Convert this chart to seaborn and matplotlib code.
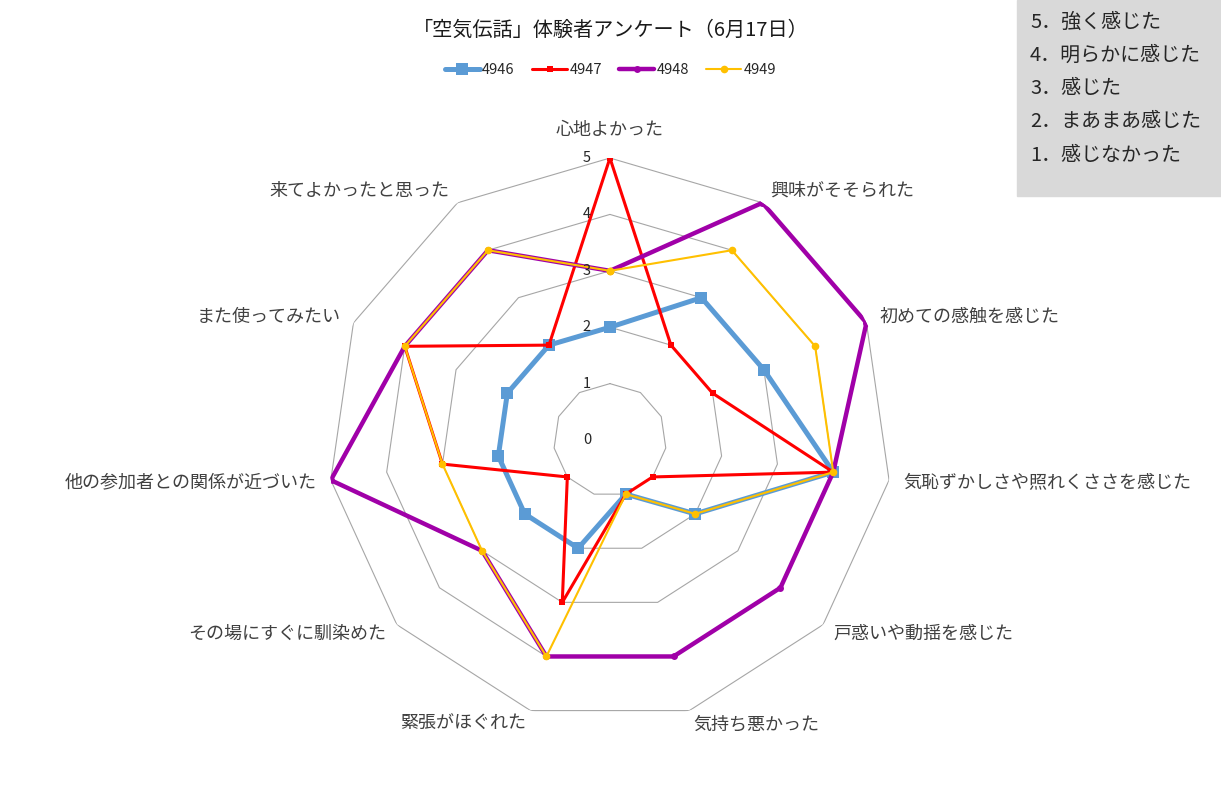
import matplotlib
matplotlib.use("Agg")
import matplotlib.pyplot as plt
import seaborn as sns
import numpy as np

# 質問項目(時計回り、上から)
categories = ["心地よかった", "興味がそそられた", "初めての感触を感じた",
              "気恥ずかしさや照れくささを感じた", "戸惑いや動揺を感じた",
              "気持ち悪かった", "緊張がほぐれた", "その場にすぐに馴染めた",
              "他の参加者との関係が近づいた", "また使ってみたい",
              "来てよかったと思った"]

s4946 = [2, 3, 3, 4, 2, 1, 2, 2, 2, 2, 2]
s4947 = [5, 2, 2, 4, 1, 1, 3, 1, 3, 4, 2]
s4948 = [3, 5, 5, 4, 4, 4, 4, 3, 5, 4, 4]
s4949 = [3, 4, 4, 4, 2, 1, 4, 3, 3, 4, 4]

series_names = ["4946", "4947", "4948", "4949"]
levels = [0, 1, 2, 3, 4, 5]
scale_notes = ["5．強く感じた", "4．明らかに感じた", "3．感じた",
               "2．まあまあ感じた", "1．感じなかった"]

sns.set_theme(style="white")
plt.rcParams['font.family'] = ['Noto Sans CJK JP', 'DejaVu Sans']

fig = plt.figure(figsize=(12.21, 7.98), dpi=100)
ax = fig.add_axes([0.2686, 0.0952, 0.4619, 0.7068], projection='polar')
ax.set_theta_offset(np.pi / 2)
ax.set_theta_direction(-1)

n = len(categories)
theta = np.linspace(0, 2 * np.pi, n, endpoint=False)
theta_c = np.append(theta, 2 * np.pi)

# 多角形のグリッド
for lv in levels[1:]:
    ax.plot(theta_c, [lv] * (n + 1), color="#a6a6a6", lw=0.8, zorder=1)

styles = [
    dict(color="#5b9bd5", lw=3.6, marker="s", markersize=8.5),
    dict(color="#ff0000", lw=2.2, marker="s", markersize=5),
    dict(color="#a000a8", lw=3.2, marker="o", markersize=5),
    dict(color="#ffc000", lw=1.5, marker="o", markersize=5.5),
]
for name, vals, st in zip(series_names, [s4946, s4947, s4948, s4949], styles):
    sns.lineplot(x=theta_c, y=vals + vals[:1], ax=ax, sort=False, estimator=None,
                 label=name, markeredgewidth=0, zorder=3, **st)

ax.set_ylim(0, 5)
ax.set_xticks([])
ax.set_yticks([])
ax.grid(False)
ax.spines['polar'].set_visible(False)
ax.set_xlabel("")
ax.set_ylabel("")
ax.patch.set_alpha(0)

# 目盛りラベル
for lv in levels:
    ax.annotate(str(lv), xy=(0, lv), xytext=(-23, 0), textcoords='offset pixels',
                ha='center', va='center', fontsize=10.5, color="#262626")

# 項目ラベル
for t, lab in zip(theta, categories):
    s = np.sin(t)
    if abs(s) < 0.01:
        ax.text(t, 5.5, lab, ha='center', va='center', fontsize=13, color="#404040")
        continue
    ha = 'left' if s > 0 else 'right'
    ax.text(t, 5.25, lab, ha=ha, va='center', fontsize=13, color="#404040")

handles, labels = ax.get_legend_handles_labels()
ax.legend_.remove()
fig.legend(handles, labels, loc='center', bbox_to_anchor=(0.5, 1 - 70 / 798),
           ncol=4, frameon=False, fontsize=10.5, handlelength=2.4,
           handletextpad=0.15, columnspacing=1.2)

fig.text(0.5, 1 - 30 / 798, "「空気伝話」体験者アンケート（6月17日）", ha='center', va='center',
         fontsize=14.5, color="#1a1a1a")

# 右上の凡例ボックス
box = plt.Rectangle((1017 / 1221, 1 - 196 / 798), 204 / 1221, 196 / 798,
                    transform=fig.transFigure, color="#d9d9d9", zorder=0)
fig.patches.append(box)
for i, note in enumerate(scale_notes):
    fig.text(1030 / 1221, 1 - (22 + 33.3 * i) / 798, note, ha='left', va='center',
             fontsize=14.4, color="#262626")

fig.savefig("out.png", dpi=100)
